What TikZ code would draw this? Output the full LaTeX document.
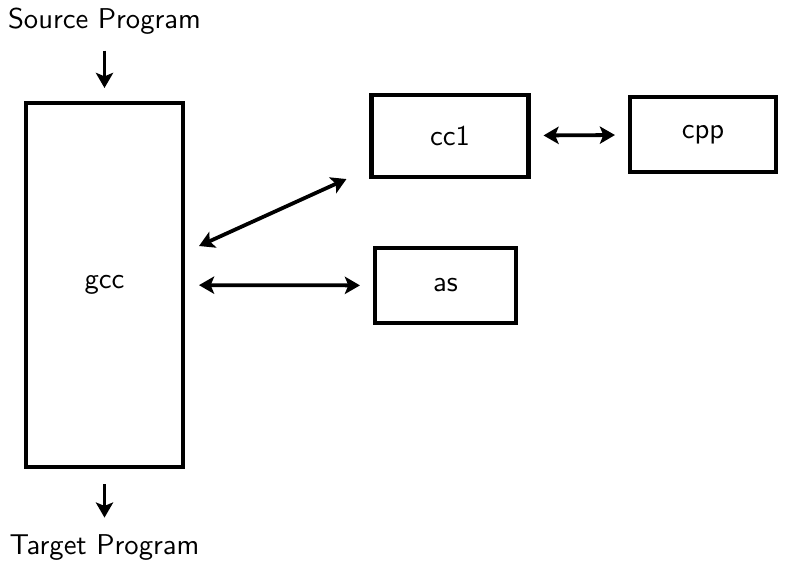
\documentclass[tikz,border=0pt]{standalone}
\usetikzlibrary{positioning}
\usetikzlibrary{calc}
\usetikzlibrary{arrows.meta}
\tikzset{
    % Wide arrow heads as in the sketch
    >={Stealth[length=5.6pt, width=6.4pt, inset=1.3pt]},
%
    % Boxes and links
    label font/.style={font=\fontsize{10.6}{12}\sffamily},
    prog box/.style={draw, line width=1.5pt, rectangle, label font},
    link/.style={line width=1.4pt, <->},
    feed/.style={line width=1.4pt, ->},
    every node/.style={align=center},
}

\begin{document}
\begin{tikzpicture}[
    x=0.37pt, y=-0.37pt,
]

\useasboundingbox (0,0) rectangle (789,564);

% Driver
\path (104.5,285) node [prog box, minimum width=157*0.37pt,
    minimum height=364*0.37pt] (gcc) {gcc};

\path
    (gcc.north) ++(0,-80) node [label font] (src) {Source Program}
    (gcc.south) ++(0,78) node [label font] (tgt) {Target Program};

% Passes
\path
    (450,136) node [prog box, minimum width=157*0.37pt,
        minimum height=82*0.37pt] (cc1) {cc1}
    (703,134.5) node [prog box, minimum width=146*0.37pt,
        minimum height=75*0.37pt] (cpp) {cpp}
    (445.5,285.5) node [prog box, minimum width=141*0.37pt,
        minimum height=75*0.37pt] (as) {as};

\draw [feed] ($(src.south)+(0,7)$) coordinate (p) -- (p |- gcc.north)
    [shorten >=13*0.37pt];
\draw [feed, shorten <=15*0.37pt, shorten >=7*0.37pt]
    (gcc.south) -- (gcc.south |- tgt.north);

\path
    ($(gcc.east)+(14,-39)$) coordinate (gcc top)
    ($(cc1.south west)+(-23,0)$) coordinate (cc1 low);
\draw [link] (gcc top) -- (cc1 low);
\draw [link, shorten <=14*0.37pt, shorten >=13*0.37pt] (gcc) -- (as);
\draw [link, shorten <=13*0.37pt, shorten >=13*0.37pt] (cc1) -- (cpp);

\end{tikzpicture}
\end{document}
